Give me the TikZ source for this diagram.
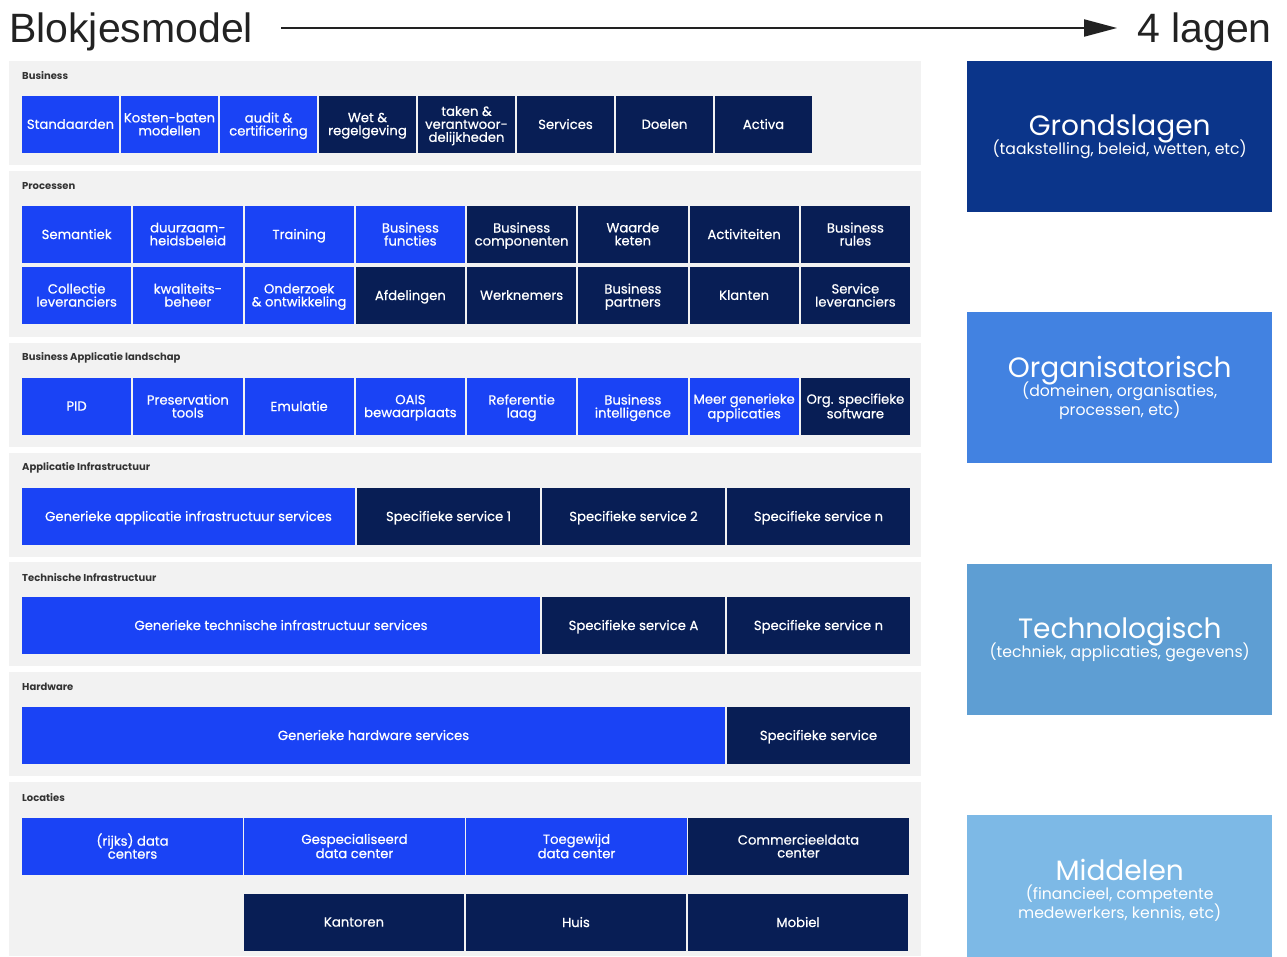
\documentclass[tikz,border=0pt]{standalone}
\usepackage{fontspec}
\setmainfont{Poppins}
\newfontfamily\headfont{Liberation Sans}
\newfontfamily\cellfont{Poppins}[FakeBold=0.6]
\newcommand\sidesub{\fontsize{15.7}{19}\selectfont}
\usepackage{tikz}
\usetikzlibrary{positioning, arrows.meta}

\definecolor{panelgray}{HTML}{F2F2F2}
\definecolor{labelgray}{HTML}{333333}
\definecolor{arrowgray}{HTML}{222222}
\definecolor{liteblue}{HTML}{1A43F5}
\definecolor{navy}{HTML}{081E55}
\definecolor{grond}{HTML}{0B358A}
\definecolor{orga}{HTML}{4282E1}
\definecolor{techno}{HTML}{5E9ED3}
\definecolor{midd}{HTML}{7DB9E6}

\begin{document}
\begin{tikzpicture}[x=1pt, y=-1pt, node distance=2pt,
    panel/.style={fill=panelgray, anchor=north west, inner sep=0pt, outer sep=0pt, minimum width=912pt},
    layer/.style={anchor=west, inner sep=0pt, text=labelgray, font=\fontsize{10}{12}\selectfont\bfseries},
    cell/.style={minimum height=57pt, inner sep=1pt, outer sep=0pt, align=center, text=white, text depth=1pt, font=\cellfont\fontsize{13.2}{13}\selectfont},
    lite/.style={cell, fill=liteblue},
    dark/.style={cell, fill=navy},
    side/.style={anchor=north west, minimum width=305pt, inner sep=0pt, align=center, text=white, font=\fontsize{28}{28}\selectfont},
    head/.style={inner sep=0pt, text height=30pt, text depth=2pt, text=arrowgray, font=\headfont\fontsize{41}{41}\selectfont}]

    \useasboundingbox (0,0) rectangle (1287,956);

    \node[head, anchor=base west]   (title)  at (9,42)    {Blokjesmodel};
    \node[head, anchor=base east]   (lagen)  at (1272,42) {4 lagen};
    \draw[-{Triangle[length=33pt,width=17pt]}, line width=2pt, arrowgray, shorten <=28pt, shorten >=20pt] (title) -- (lagen);

    \node[panel, minimum height=104pt]  (p1) at (9,61)  {};
    \node[panel, minimum height=166pt]  (p2) at (9,171) {};
    \node[panel, minimum height=104pt]  (p3) at (9,343) {};
    \node[panel, minimum height=104pt]  (p4) at (9,453) {};
    \node[panel, minimum height=104pt]  (p5) at (9,562) {};
    \node[panel, minimum height=104pt]  (p6) at (9,672) {};
    \node[panel, minimum height=174pt]  (p7) at (9,782) {};

    \node[layer] (l1) at (22,76)  {Business};
    \node[layer] (l2) at (22,186) {Processen};
    \node[layer] (l3) at (22,358) {Business Applicatie landschap};
    \node[layer] (l4) at (22,468) {Applicatie Infrastructuur};
    \node[layer] (l5) at (22,578) {Technische Infrastructuur};
    \node[layer] (l6) at (22,687) {Hardware};
    \node[layer] (l7) at (22,798) {Locaties};

    \begin{scope}[every node/.append style={minimum width=97pt}]
        \node[lite, anchor=north west]  (a1) at (22,96) {Standaarden};
        \node[lite, right=of a1]        (a2) {Kosten-baten\\modellen};
        \node[lite, right=of a2]        (a3) {audit \&\\certificering};
        \node[dark, right=of a3]        (a4) {Wet \&\\regelgeving};
        \node[dark, right=of a4]        (a5) {taken \&\\verantwoor-\\delijkheden};
        \node[dark, right=of a5]        (a6) {Services};
        \node[dark, right=of a6]        (a7) {Doelen};
        \node[dark, right=of a7]        (a8) {Activa};
    \end{scope}

    \begin{scope}[every node/.append style={minimum width=109.25pt}]
        \node[lite, anchor=north west]  (b1) at (22,206) {Semantiek};
        \node[lite, right=of b1]        (b2) {duurzaam-\\heidsbeleid};
        \node[lite, right=of b2]        (b3) {Training};
        \node[lite, right=of b3]        (b4) {Business\\functies};
        \node[dark, right=of b4]        (b5) {Business\\componenten};
        \node[dark, right=of b5]        (b6) {Waarde\\keten};
        \node[dark, right=of b6]        (b7) {Activiteiten};
        \node[dark, right=of b7]        (b8) {Business\\rules};

        \node[lite, below=4pt of b1]    (c1) {Collectie\\leveranciers};
        \node[lite, right=of c1]        (c2) {kwaliteits-\\beheer};
        \node[lite, right=of c2]        (c3) {Onderzoek\\\& ontwikkeling};
        \node[dark, right=of c3]        (c4) {Afdelingen};
        \node[dark, right=of c4]        (c5) {Werknemers};
        \node[dark, right=of c5]        (c6) {Business\\partners};
        \node[dark, right=of c6]        (c7) {Klanten};
        \node[dark, right=of c7]        (c8) {Service\\leveranciers};

        \node[lite, anchor=north west]  (d1) at (22,378) {PID};
        \node[lite, right=of d1]        (d2) {Preservation\\tools};
        \node[lite, right=of d2]        (d3) {Emulatie};
        \node[lite, right=of d3]        (d4) {OAIS\\bewaarplaats};
        \node[lite, right=of d4]        (d5) {Referentie\\laag};
        \node[lite, right=of d5]        (d6) {Business\\intelligence};
        \node[lite, right=of d6]        (d7) {Meer generieke\\applicaties};
        \node[dark, right=of d7]        (d8) {Org. specifieke\\software};
    \end{scope}

    \node[lite, anchor=north west, minimum width=333pt]  (e1) at (22,488) {Generieke applicatie infrastructuur services};
    \node[dark, right=of e1, minimum width=183pt]         (e2) {Specifieke service 1};
    \node[dark, right=of e2, minimum width=183pt]         (e3) {Specifieke service 2};
    \node[dark, right=of e3, minimum width=183pt]         (e4) {Specifieke service n};

    \node[lite, anchor=north west, minimum width=518pt]  (f1) at (22,597) {Generieke technische infrastructuur services};
    \node[dark, right=of f1, minimum width=183pt]         (f2) {Specifieke service A};
    \node[dark, right=of f2, minimum width=183pt]         (f3) {Specifieke service n};

    \node[lite, anchor=north west, minimum width=703pt]  (g1) at (22,707) {Generieke hardware services};
    \node[dark, right=of g1, minimum width=183pt]         (g2) {Specifieke service};

    \begin{scope}[every node/.append style={minimum width=221pt}]
        \node[lite, anchor=north west]  (h1) at (22,818) {(rijks) data\\centers};
        \node[lite, right=1pt of h1]    (h2) {Gespecialiseerd\\data center};
        \node[lite, right=1pt of h2]    (h3) {Toegewijd\\data center};
        \node[dark, right=1pt of h3]    (h4) {Commercieeldata\\center};
    \end{scope}

    \begin{scope}[every node/.append style={minimum width=220pt}]
        \node[dark, anchor=north west]  (k1) at (244,894) {Kantoren};
        \node[dark, right=of k1]        (k2) {Huis};
        \node[dark, right=of k2]        (k3) {Mobiel};
    \end{scope}

    \node[side, fill=grond,  minimum height=151pt] (grondslagen) at (967,61)  {Grondslagen\\[-9pt]\sidesub (taakstelling, beleid, wetten, etc)};
    \node[side, fill=orga,   minimum height=151pt] (organisatie) at (967,312) {Organisatorisch\\[-9pt]\sidesub (domeinen, organisaties,\\[-9pt]\sidesub processen, etc)};
    \node[side, fill=techno, minimum height=151pt] (technologie) at (967,564) {Technologisch\\[-9pt]\sidesub (techniek, applicaties, gegevens)};
    \node[side, fill=midd,   minimum height=151pt] (middelen)    at (967,815) {Middelen\\[-9pt]\sidesub (financieel, competente\\[-9pt]\sidesub medewerkers, kennis, etc)};
\end{tikzpicture}
\end{document}
